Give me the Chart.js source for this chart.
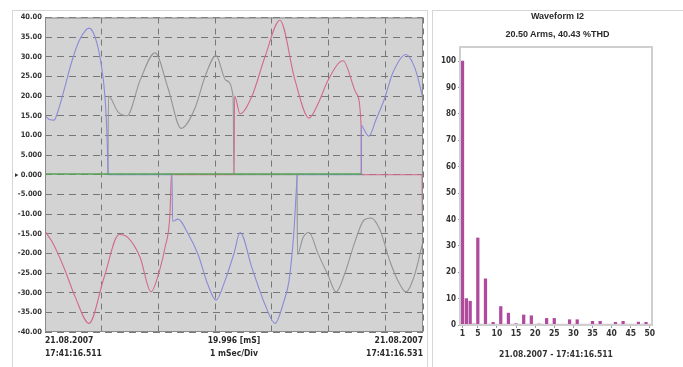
<!DOCTYPE html>
<html lang="en">
<head>
<meta charset="UTF-8">
<title>Waveform I2</title>
<script src="https://cdn.jsdelivr.net/npm/chart.js"></script>
<style>
    body { margin: 0; background: #fff; width: 683px; height: 367px; overflow: hidden; position: relative;
           font-family: 'Liberation Sans Narrow', 'DejaVu Sans Condensed', 'Liberation Sans', sans-serif; color: #2a2a2a; }
    .panel { position: absolute; border: 1px solid #d6d6d6; box-sizing: border-box; }
    canvas { position: absolute; }
    .lbl { position: absolute; font-size: 8.5px; font-weight: bold; line-height: 13px; white-space: nowrap; }
    .ttl { position: absolute; left: 432px; width: 251px; text-align: center; font-weight: bold; font-family: 'Liberation Sans', sans-serif; }
</style>
</head>
<body>
<div class="panel" style="left:12px;top:10px;width:416px;height:370px;"></div>
<div class="panel" style="left:432px;top:10px;width:260px;height:370px;"></div>

<canvas id="scope" width="415" height="357" style="left:12px;top:10px;"></canvas>
<canvas id="spectrum" width="251" height="357" style="left:432px;top:10px;"></canvas>

<div class="lbl" style="left:45px;top:334px;">21.08.2007<br>17:41:16.511</div>
<div class="lbl" style="left:184px;width:100px;top:334px;text-align:center;">19.996 [mS]<br>1 mSec/Div</div>
<div class="lbl" style="left:323px;width:100px;top:334px;text-align:right;">21.08.2007<br>17:41:16.531</div>

<div class="ttl" style="top:11px;font-size:9px;">Waveform I2</div>
<div class="ttl" style="top:29px;font-size:9px;">20.50 Arms, 40.43 %THD</div>

<script>
    // scope traces: time in ms, current in A
    const blueT = [0, 0.26, 0.48, 0.74, 1.01, 1.43, 1.85, 2.33, 2.65, 2.96, 3.17, 3.28, 3.33, 3.36,
                   6.72, 6.75, 7.04, 7.57, 8.10, 8.62, 9.05, 9.52, 10.00, 10.32, 10.95, 11.64, 12.17, 12.65, 12.91, 13.17, 13.33, 13.36,
                   16.72, 16.75, 16.88, 17.14, 17.51, 17.94, 18.41, 19.10, 19.58, 20];
    const blueA = [15, 14, 13.9, 17, 21.6, 29, 34.5, 37.3, 35, 28.5, 20, 10, 2, 0,
                   0, -11.8, -11.3, -15, -20.3, -28, -31.9, -27, -20, -14.7, -23.7, -33, -37.8, -32, -27, -14.4, -1.5, 0,
                   0, 12.6, 11.5, 9.8, 14, 19, 26, 30.6, 27, 19.5];

    const redT = [0, 0.37, 1.01, 1.59, 2.33, 3.12, 3.92, 4.39, 5.03, 5.61, 6.08, 6.35, 6.61, 6.67, 6.70,
                  10.00, 10.03, 10.32, 10.95, 11.64, 12.43, 13.23, 13.97, 14.44, 14.97, 15.77, 16.46, 16.72, 16.75,
                  19.95, 19.97, 20];
    const redA = [-14.4, -17, -23.7, -31, -37.8, -26.2, -15.2, -16, -21, -29.8, -24, -18.5, -10, -2, 0,
                  0, 20, 15.5, 20, 30, 39.3, 24, 14.4, 18, 24, 29, 20.8, 13, 0,
                  0, -12, -13];

    const greyT = [3.33, 3.36, 3.86, 4.34, 5.03, 5.82, 6.51, 7.20, 7.94, 8.47, 9.05, 9.58, 9.95, 10.00,
                   13.33, 13.36, 13.65, 13.97, 14.44, 14.97, 15.40, 15.87, 16.40, 16.88, 17.25, 17.72, 18.25, 18.68, 19.10, 19.52, 20];
    const greyA = [0, 20, 16, 15, 24, 31, 22, 11.8, 17, 25, 30.3, 24, 20, 0,
                   0, -20.3, -16, -14.7, -20, -25.5, -29.8, -25, -17, -11.5, -11, -14, -22, -27, -29.8, -26, -17];

    const greenT = [0, 16.75];
    const greenA = [0.2, 0.2];

    // harmonic spectrum, % of fundamental
    const harmonicOrder = Array.from({length: 50}, (_, i) => i + 1);
    const harmonicPct = [100, 10, 9, 0.4, 33, 0.3, 17.5, 0.3, 1, 0.3,
                         7, 0.3, 4.5, 0.3, 0.5, 0.3, 3.8, 0.3, 3.5, 0.3,
                         0.4, 0.3, 2.5, 0.3, 2.5, 0.3, 0.3, 0.3, 2, 0.3,
                         2, 0.3, 0.3, 0.3, 1.4, 0.3, 1.4, 0.3, 0.3, 0.3,
                         1, 0.3, 1.4, 0.3, 0.3, 0.3, 1.1, 0.3, 1, 0.3];
    const spectrumXTicks = [1, 5, 10, 15, 20, 25, 30, 35, 40, 45, 50];
    const spectrumYTicks = [0, 10, 20, 30, 40, 50, 60, 70, 80, 90, 100];

    const pts = (t, a) => t.map((v, i) => ({x: v, y: a[i]}));

    const tickFont = {family: "'Liberation Sans Narrow', 'DejaVu Sans Condensed', sans-serif", size: 7.5, weight: 'bold'};

    function fmtAmp(v) {
        if (v === 0) return '\u25B8 0.000';
        return Math.abs(v) < 10 ? v.toFixed(3) : v.toFixed(2);
    }

    new Chart(document.getElementById('scope'), {
        type: 'line',
        data: {
            datasets: [
                {data: pts(greenT, greenA), borderColor: '#55a556', borderWidth: 1.6},
                {data: pts(blueT, blueA), borderColor: '#8a8ad8'},
                {data: pts(redT, redA), borderColor: '#d26a8a'},
                {data: pts(greyT, greyA), borderColor: '#959595'}
            ]
        },
        options: {
            responsive: false,
            animation: false,
            layout: {padding: {top: 7, right: 4, left: 0, bottom: 0}},
            elements: {point: {radius: 0}, line: {borderWidth: 1.1, cubicInterpolationMode: 'monotone'}},
            plugins: {legend: {display: false}, tooltip: {enabled: false}},
            scales: {
                x: {
                    type: 'linear', min: 0, max: 20,
                    ticks: {display: false, stepSize: 3},
                    grid: {color: '#777', lineWidth: 1, drawTicks: false},
                    border: {display: false, dash: [6, 5]},
                    afterFit(s) { s.height = 35; }
                },
                y: {
                    min: -40, max: 40,
                    ticks: {stepSize: 5, font: tickFont, color: '#333', padding: 3, callback: fmtAmp},
                    grid: {color: '#777', lineWidth: 1, drawTicks: false},
                    border: {display: false, dash: [7, 5]},
                    afterFit(s) { s.width = 33; }
                }
            }
        },
        plugins: [{
            id: 'scopeFrame',
            beforeDraw(chart) {
                const a = chart.chartArea, c = chart.ctx;
                c.save();
                c.fillStyle = '#d3d3d3';
                c.fillRect(a.left, a.top, a.right - a.left, a.bottom - a.top);
                c.restore();
            },
            afterDraw(chart) {
                const a = chart.chartArea, c = chart.ctx;
                c.save();
                c.strokeStyle = '#8a8a8a';
                c.lineWidth = 1;
                c.strokeRect(a.left + 0.5, a.top + 0.5, a.right - a.left - 1, a.bottom - a.top - 1);
                c.restore();
            }
        }]
    });

    new Chart(document.getElementById('spectrum'), {
        type: 'bar',
        data: {
            datasets: [{
                data: pts(harmonicOrder, harmonicPct),
                backgroundColor: '#b04a9e',
                barThickness: 2.6
            }]
        },
        options: {
            responsive: false,
            animation: false,
            layout: {padding: {top: 38, right: 32, left: 0, bottom: 0}},
            plugins: {legend: {display: false}, tooltip: {enabled: false}},
            scales: {
                x: {
                    type: 'linear', min: 0.6, max: 50.3, offset: false,
                    afterBuildTicks(s) { s.ticks = spectrumXTicks.map(v => ({value: v})); },
                    ticks: {font: {...tickFont, size: 8.5}, color: '#333', padding: 1, maxRotation: 0, autoSkip: false},
                    grid: {display: true, drawOnChartArea: false, tickLength: 3, color: '#999', offset: false},
                    border: {display: false},
                    title: {display: true, text: '21.08.2007 - 17:41:16.511', font: {...tickFont, size: 8.5}, color: '#333', padding: {top: 0, bottom: 7}},
                    afterFit(s) { s.height = 42; }
                },
                y: {
                    min: 0, max: 105,
                    afterBuildTicks(s) { s.ticks = spectrumYTicks.map(v => ({value: v})); },
                    ticks: {font: {...tickFont, size: 8}, color: '#333', padding: 2},
                    grid: {display: true, drawOnChartArea: false, tickLength: 3, color: '#999'},
                    border: {display: false},
                    afterFit(s) { s.width = 29; }
                }
            }
        },
        plugins: [{
            id: 'spectrumFrame',
            afterDraw(chart) {
                const a = chart.chartArea, c = chart.ctx;
                c.save();
                c.strokeStyle = '#cfcfcf';
                c.lineWidth = 2;
                c.strokeRect(a.left - 1, a.top - 1, a.right - a.left + 2, a.bottom - a.top + 1);
                c.restore();
            }
        }]
    });
</script>
</body>
</html>
